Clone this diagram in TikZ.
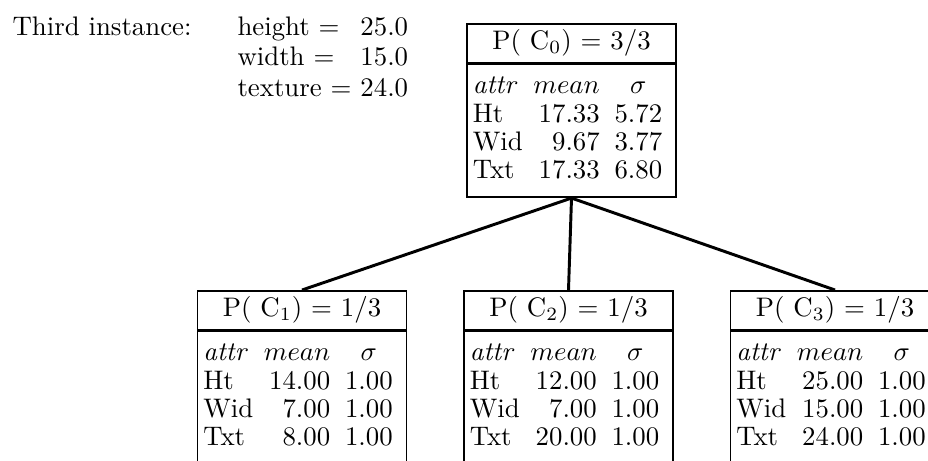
\documentclass[tikz,border=0pt]{standalone}
\usetikzlibrary{positioning}

\begin{document}
\begin{tikzpicture}[
    x=0.373pt, y=-0.373pt,
    node distance=0pt,
    head/.style={draw, line width=0.6pt, minimum width=78pt, minimum height=14.5pt, inner sep=0pt},
    body/.style={draw, line width=0.6pt, text width=73.6pt, inner xsep=2.2pt, inner ysep=0pt,
                 minimum height=49.6pt, align=left},
    link/.style={line width=1.1pt}
]
\useasboundingbox (0,0) rectangle (928,460);
\clip (0,0) rectangle (928,460);
\renewcommand{\arraystretch}{0.88}

% the instance
\node[anchor=base west, inner sep=0pt] (lbl) at (12,35) {Third instance:};
\node[anchor=base west, inner sep=0pt] (inst) at (237,35) {\renewcommand{\arraystretch}{0.95}%
\begin{tabular}[t]{@{}l@{}}
height $=$ \hfill 25.0\\
width $=$ \hfill 15.0\\
texture $=$ 24.0
\end{tabular}};

% root concept
\node[head, anchor=north] (C0) at (571.5,23) {P( C$_0$) $=$ 3/3};
\node[body, below=of C0] (C0b) {\begin{tabular}{@{}l@{\hspace{4pt}}r@{\hspace{5.5pt}}c@{}}
\textit{attr} & $mean$ & $\sigma$\\
Ht & 17.33 & 5.72\\
Wid & 9.67 & 3.77\\
Txt & 17.33 & 6.80
\end{tabular}};

% children
\node[head, anchor=north] (C1) at (302,290) {P( C$_1$) $=$ 1/3};
\node[body, below=of C1] (C1b) {\begin{tabular}{@{}l@{\hspace{4pt}}r@{\hspace{5.5pt}}c@{}}
\textit{attr} & $mean$ & $\sigma$\\
Ht & 14.00 & 1.00\\
Wid & 7.00 & 1.00\\
Txt & 8.00 & 1.00
\end{tabular}};

\node[head, anchor=north] (C2) at (568.5,290) {P( C$_2$) $=$ 1/3};
\node[body, below=of C2] (C2b) {\begin{tabular}{@{}l@{\hspace{4pt}}r@{\hspace{5.5pt}}c@{}}
\textit{attr} & $mean$ & $\sigma$\\
Ht & 12.00 & 1.00\\
Wid & 7.00 & 1.00\\
Txt & 20.00 & 1.00
\end{tabular}};

\node[head, anchor=north] (C3) at (835,290) {P( C$_3$) $=$ 1/3};
\node[body, below=of C3] (C3b) {\begin{tabular}{@{}l@{\hspace{4pt}}r@{\hspace{5.5pt}}c@{}}
\textit{attr} & $mean$ & $\sigma$\\
Ht & 25.00 & 1.00\\
Wid & 15.00 & 1.00\\
Txt & 24.00 & 1.00
\end{tabular}};

% links
\draw[link] (C0b.south) -- (C1.north);
\draw[link] (C0b.south) -- (C2.north);
\draw[link] (C0b.south) -- (C3.north);

\end{tikzpicture}
\end{document}
